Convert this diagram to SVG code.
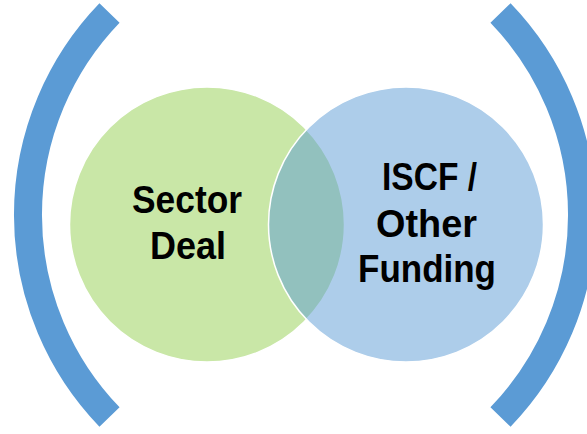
<svg xmlns="http://www.w3.org/2000/svg" width="587" height="434" viewBox="0 0 587 434">
  <style>
    .paren { fill: none; stroke: #5B9BD5; stroke-width: 28; stroke-linecap: butt; }
    .lbl { font-family: "Liberation Sans", Arial, sans-serif; font-weight: bold; font-size: 39px; fill: #000000; text-anchor: middle; }
  </style>
  <rect width="587" height="434" fill="#FFFFFF"/>
  <g id="brackets">
    <path class="paren" d="M109.5,13 A291,291 0 0 0 109.5,417"/>
    <path class="paren" d="M500.5,13 A291,291 0 0 1 500.5,417"/>
  </g>
  <g id="connectors"></g>
  <g id="sector-deal">
    <circle cx="207" cy="224.5" r="137.5" fill="#C9E7A7" stroke="#FFFFFF" stroke-width="1.5"/>
  </g>
  <g id="iscf-other-funding">
    <circle cx="406" cy="224.5" r="137.5" fill="#5B9BD5" fill-opacity="0.5" stroke="#FFFFFF" stroke-width="1.5"/>
  </g>
  <g id="labels">
    <text class="lbl" x="187" y="213" textLength="110" lengthAdjust="spacingAndGlyphs">Sector</text>
    <text class="lbl" x="188" y="259" textLength="76" lengthAdjust="spacingAndGlyphs">Deal</text>
    <text class="lbl" x="429.5" y="190" textLength="95" lengthAdjust="spacingAndGlyphs">ISCF /</text>
    <text class="lbl" x="426.5" y="237" textLength="101" lengthAdjust="spacingAndGlyphs">Other</text>
    <text class="lbl" x="427" y="282" textLength="138" lengthAdjust="spacingAndGlyphs">Funding</text>
  </g>
</svg>
